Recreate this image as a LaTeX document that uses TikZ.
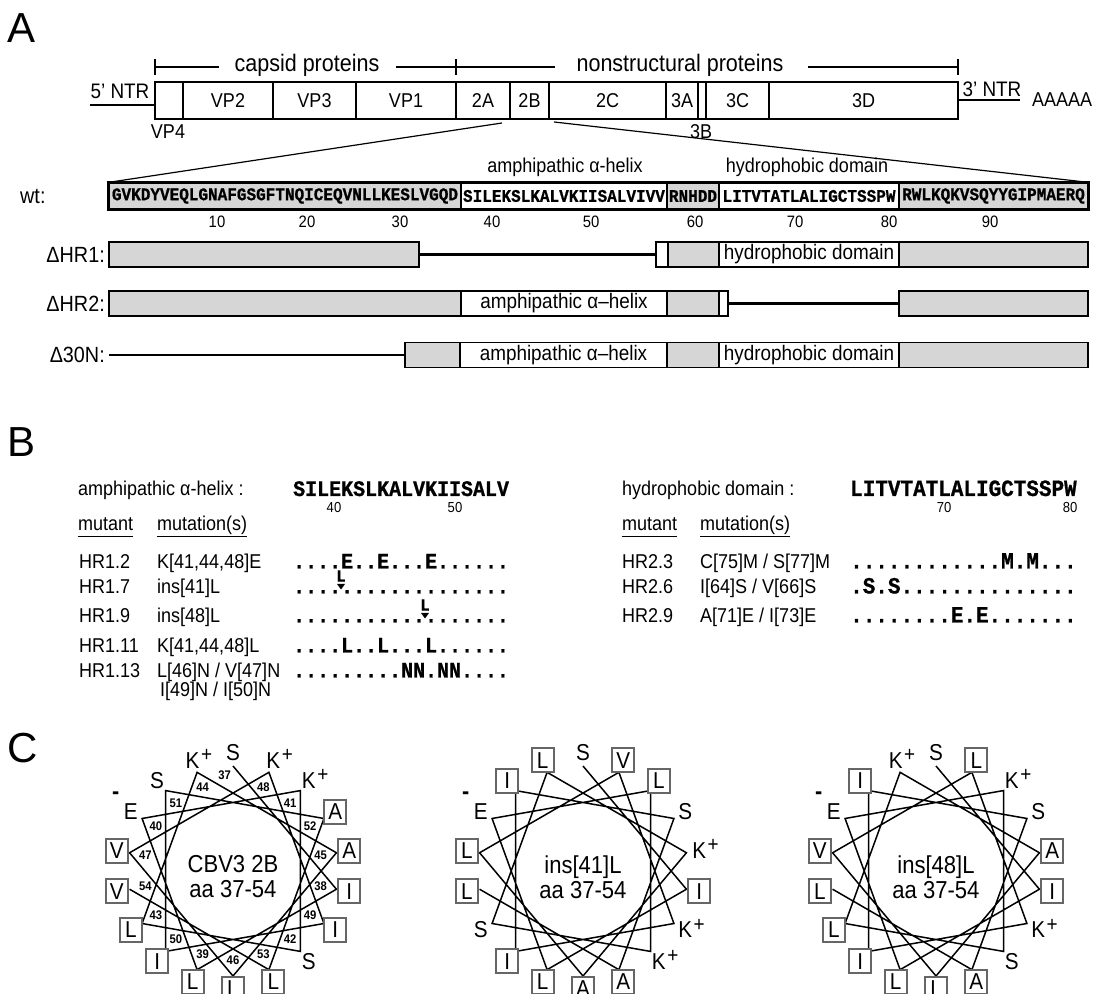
\documentclass[tikz,border=0pt]{standalone}
\usepackage{fontspec}
\setmainfont{Liberation Sans}[FakeStretch=0.9]
\newfontfamily\plainsf{Liberation Sans}
\newfontfamily\seqfont{Liberation Mono}[FakeStretch=0.9, BoldFeatures={FakeBold=0.8}]
\usetikzlibrary{calc}
\newcommand\fsz[1]{\fontsize{#1}{#1}\selectfont}
\newcommand\bx[7]{\node[#6, minimum width={(#3-#2)*1pt}, minimum height={#5*1pt}] (#1) at ({(#2+#3)/2},#4) {#7};}
\newcommand\helwheel[7]{%
  \coordinate (#1) at (#2,122);
  \foreach \k in {0,...,17} \coordinate (#1-\k) at ($(#1)+({90-100*\k}:105)$);
  \draw[wheel] (#1-0) \foreach \k in {1,...,17}{ -- (#1-\k)};
  \foreach \k/\r in {#3} \node[hres] (#1-r\k) at ($(#1)+({90-100*\k}:118)$) {\r};
  \foreach \k/\r in {#4} \node[res] (#1-r\k) at ($(#1)+({90-100*\k}:118)$) {\r};
  \foreach \k in {#5} {\node[res] (#1-r\k) at ($(#1)+({90-100*\k}:118)$) {K};
    \node[res, font=\fsz{21}] (#1-p\k) at ($(#1-r\k)+(14,5)$) {+};}
  \node[res] (#1-r#6) at ($(#1)+({90-100*#6}:118)$) {E};
  \node[res, font=\bfseries\fsz{24}] (#1-m) at ($(#1-r#6)+(-15,16)$) {-};
  \node[font=\fontsize{24.5}{25}\selectfont, align=center] (#1-c) at ($(#1)+(0,-6)$) {#7};
}
\begin{document}
\begin{tikzpicture}[x=1pt,y=1pt,
  every node/.style={inner sep=0pt},
  lab/.style={font=\fsz{20}},
  dlab/.style={font=\fsz{22}},
  big/.style={font=\plainsf\fsz{42}, anchor=base west},
  gbox/.style={draw, line width=1.2pt, font=\fsz{20}},
  seqbox/.style={draw, line width=1.2pt, font=\seqfont\bfseries\fsz{17.8}},
  gry/.style={fill=black!16},
  dbox/.style={draw, line width=1.2pt, font=\fsz{21}},
  delline/.style={line width=2.4pt},
  seqB/.style={font=\seqfont\bfseries\fsz{22.2}, anchor=base west},
  seqC/.style={font=\seqfont\bfseries\fsz{23.3}, anchor=base west},
  wheel/.style={line width=1.5pt, line join=miter},
  res/.style={font=\fsz{23}},
  hres/.style={res, draw=black!60, line width=2pt, minimum width=22pt, minimum height=24pt, fill=white},
  num/.style={font=\bfseries\fsz{12.5}},
  bl/.style={lab, anchor=base west},
  ul/.style={line width=0.9pt}
]
\useasboundingbox (0,0) rectangle (1094,993);

% ---------------- Panel A ----------------
\node[big] (A) at (7,950) {A};

% bracket
\node[font=\fsz{23.9}, anchor=base] (capsid) at (307,921) {capsid proteins};
\node[font=\fsz{23.9}, anchor=base] (nonstr) at (680,921) {nonstructural proteins};
\draw[line width=1.2pt] (155,918) -- (155,934);
\draw[line width=1.2pt] (456,918) -- (456,934);
\draw[line width=1.2pt] (958,918) -- (958,934);
\draw[line width=1.2pt] (155,926) -- (219,926);
\draw[line width=1.2pt] (396,926) -- (555,926);
\draw[line width=1.2pt] (808,926) -- (958,926);

% genome bar
\bx{vpf}{155}{183}{892.5}{37}{gbox}{}
\bx{vpb}{183}{273}{892.5}{37}{gbox}{VP2}
\bx{vpc}{273}{356}{892.5}{37}{gbox}{VP3}
\bx{vpa}{356}{456}{892.5}{37}{gbox}{VP1}
\bx{tA}{456}{510}{892.5}{37}{gbox}{2A}
\bx{tB}{510}{549}{892.5}{37}{gbox}{2B}
\bx{tC}{549}{666}{892.5}{37}{gbox}{2C}
\bx{hA}{666}{698}{892.5}{37}{gbox}{3A}
\bx{hB}{698}{706}{892.5}{37}{gbox}{}
\bx{hC}{706}{769}{892.5}{37}{gbox}{3C}
\bx{hD}{769}{958}{892.5}{37}{gbox}{3D}

\node[lab] (vp4) at (168,861) {VP4};
\node[lab] (b3) at (701,861) {3B};
\node[font=\fsz{21}] (t5) at (120,902) {5' NTR};
\coordinate (n5) at (90,888);
\draw[line width=1.2pt] (n5) -- (n5 -| vpf.west);
\node[font=\fsz{21}] (t3) at (992,904) {3' NTR};
\node[lab] (polyA) at (1062,893) {AAAAA};
\draw[line width=1.2pt] (hD.east |- polyA.west) -- ([xshift=-12pt]polyA.west);

% wt sequence
\bx{sa}{109}{461}{797}{26}{seqbox,gry}{GVKDYVEQLGNAFGSGFTNQICEQVNLLKESLVGQD}
\bx{sb}{461}{667}{797}{26}{seqbox}{SILEKSLKALVKIISALVIVV}
\bx{sc}{667}{719}{797}{26}{seqbox,gry}{RNHDD}
\bx{sd}{719}{899}{797}{26}{seqbox}{LITVTATLALIGCTSSPW}
\bx{se}{899}{1088}{797}{26}{seqbox,gry}{RWLKQKVSQYYGIPMAERQ}
\draw[line width=2pt] (sa.north west) rectangle (se.south east);
\node[dlab, anchor=west] (wt) at (20,797) {wt:};
\node[lab] (amphT) at (565,826) {amphipathic α-helix};
\node[lab] (hydT) at (807,826) {hydrophobic domain};
\foreach \x/\n in {217/10,307/20,400/30,492/40,591/50,695/60,795/70,889/80,990/90}
  \node[font=\fsz{16.5}] at (\x,771) {\n};

% zoom lines
\coordinate (zl) at (502,870);
\coordinate (zr) at (554,871);
\draw[line width=1.2pt] (zl) -- (sa.north west);
\draw[line width=1.2pt] (zr) -- (se.north east);

% deletion mutants
\bx{ra}{109}{419}{738.5}{25}{dbox,gry}{}
\bx{rb}{656}{668}{738.5}{25}{dbox}{}
\bx{rc}{668}{719}{738.5}{25}{dbox,gry}{}
\bx{rd}{719}{899}{738.5}{25}{dbox}{hydrophobic domain}
\bx{re}{899}{1088}{738.5}{25}{dbox,gry}{}
\draw[delline] (ra.east) -- (rb.west);
\node[dlab, anchor=east] (lra) at (105,738.5) {ΔHR1:};

\bx{qa}{109}{461}{689.5}{25}{dbox,gry}{}
\bx{qb}{461}{667}{689.5}{25}{dbox}{amphipathic α--helix}
\bx{qc}{667}{719}{689.5}{25}{dbox,gry}{}
\bx{qd}{719}{728}{689.5}{25}{dbox}{}
\bx{qe}{899}{1088}{689.5}{25}{dbox,gry}{}
\draw[delline] (qd.east) -- (qe.west);
\node[dlab, anchor=east] (lqa) at (105,689.5) {ΔHR2:};

\coordinate (pstart) at (109,638);
\bx{pa}{405}{460}{638}{25}{dbox,gry}{}
\bx{pb}{460}{667}{638}{25}{dbox}{amphipathic α--helix}
\bx{pc}{667}{719}{638}{25}{dbox,gry}{}
\bx{pd}{719}{899}{638}{25}{dbox}{hydrophobic domain}
\bx{pe}{899}{1088}{638}{25}{dbox,gry}{}
\draw[delline] (pstart) -- (pa.west);
\node[dlab, anchor=east] (lpa) at (105,638) {Δ30N:};

% ---------------- Panel B ----------------
\node[big] (B) at (7,536) {B};
\node[bl] (amphB) at (78,497) {amphipathic α-helix :};
\node[seqB] (sqA) at (293,497) {SILEKSLKALVKIISALV};
\node[font=\fsz{14.5}] at (334,485) {40};
\node[font=\fsz{14.5}] at (455,485) {50};
\node[bl] (mutA) at (78,462) {mutant};
\node[bl] (mtnA) at (157,462) {mutation(s)};
\draw[ul] ([yshift=-5pt]mutA.base west) -- ([yshift=-5pt]mutA.base east);
\draw[ul] ([yshift=-5pt]mtnA.base west) -- ([yshift=-5pt]mtnA.base east);

\node[bl] at (79,424.5) {HR1.2};
\node[bl] at (157,424.5) {K[41,44,48]E};
\node[seqB] at (293,424.5) {....E..E...E......};
\node[bl] at (79,399.5) {HR1.7};
\node[bl] at (157,399.5) {ins[41]L};
\node[seqB, text height=4pt] at (293,399.5) {..................};
\node[font=\seqfont\bfseries\fsz{17}] (insa) at (341,417) {L};
\fill (337,409) -- (345,409) -- (341,403.5) -- cycle;
\node[bl] at (79,370.5) {HR1.9};
\node[bl] at (157,370.5) {ins[48]L};
\node[seqB, text height=4pt] at (293,370.5) {..................};
\node[font=\seqfont\bfseries\fsz{17}] (insb) at (425,388) {L};
\fill (421,380) -- (429,380) -- (425,374.5) -- cycle;
\node[bl] at (79,340.5) {HR1.11};
\node[bl] at (157,340.5) {K[41,44,48]L};
\node[seqB] at (293,340.5) {....L..L...L......};
\node[bl] at (79,315.5) {HR1.13};
\node[bl] at (157,315.5) {L[46]N / V[47]N};
\node[seqB] at (293,315.5) {.........NN.NN....};
\node[bl] at (160,296.5) {I[49]N / I[50]N};

\node[bl] (hydB) at (622,497) {hydrophobic domain :};
\node[seqC] (sqB) at (850,497) {LITVTATLALIGCTSSPW};
\node[font=\fsz{14.5}] at (944,485) {70};
\node[font=\fsz{14.5}] at (1070,485) {80};
\node[bl] (mutB) at (622,462) {mutant};
\node[bl] (mtnB) at (700,462) {mutation(s)};
\draw[ul] ([yshift=-5pt]mutB.base west) -- ([yshift=-5pt]mutB.base east);
\draw[ul] ([yshift=-5pt]mtnB.base west) -- ([yshift=-5pt]mtnB.base east);
\node[bl] at (622,424.5) {HR2.3};
\node[bl] at (700,424.5) {C[75]M / S[77]M};
\node[seqC] at (850,424.5) {............M.M...};
\node[bl] at (622,399.5) {HR2.6};
\node[bl] at (700,399.5) {I[64]S / V[66]S};
\node[seqC] at (850,399.5) {.S.S..............};
\node[bl] at (622,370.5) {HR2.9};
\node[bl] at (700,370.5) {A[71]E / I[73]E};
\node[seqC] at (850,370.5) {........E.E.......};

% ---------------- Panel C ----------------
\node[big] (C) at (7,230) {C};
\helwheel{wa}{233}{1/I,2/L,6/L,8/A,9/L,10/V,12/I,13/I,15/A,16/L,17/V}{0/S,5/S,14/S}{4,7,11}{3}{CBV3 2B\\aa 37-54}
\foreach \k in {1,...,17}{\pgfmathtruncatemacro\nn{37+\k}\node[num] at ($(wa)+({90-100*\k}:89)$) {\nn};}
\node[num] at ($(wa)+(95:96)$) {37};
\helwheel{wb}{583}{1/I,2/L,4/L,7/L,9/A,10/L,11/V,13/I,14/I,16/A,17/L}{0/S,6/S,15/S}{5,8,12}{3}{ins[41]L\\aa 37-54}
\helwheel{wc}{936}{1/I,2/L,6/L,8/A,9/L,10/V,11/L,13/I,14/I,16/A,17/L}{0/S,5/S,15/S}{4,7,12}{3}{ins[48]L\\aa 37-54}
\end{tikzpicture}
\end{document}
